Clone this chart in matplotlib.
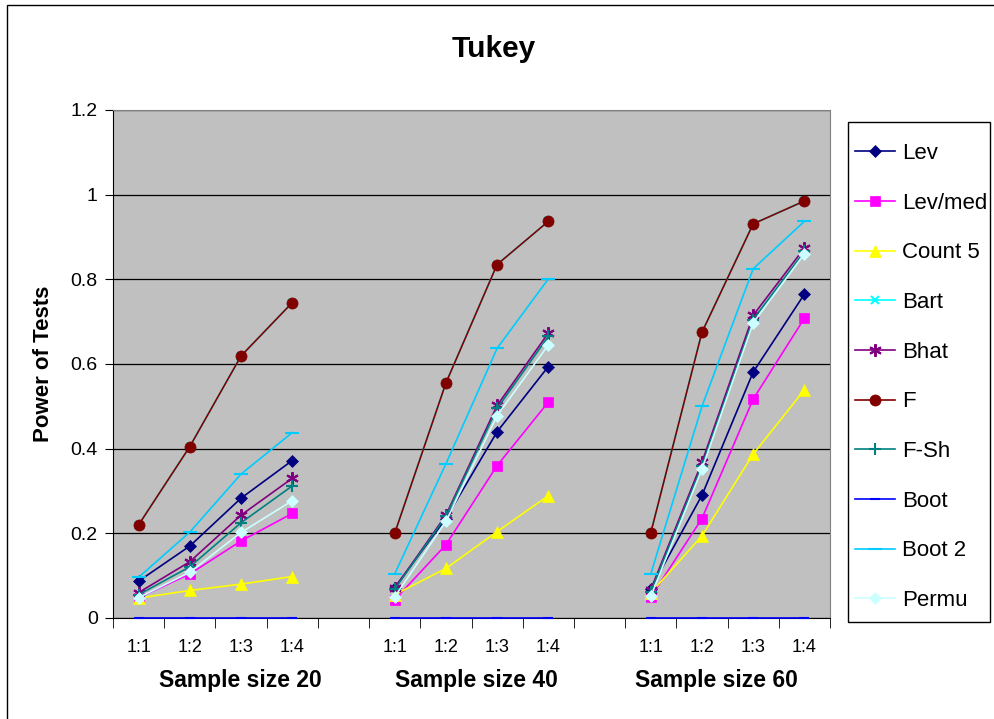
import numpy as np
import matplotlib
matplotlib.use('Agg')
import matplotlib.pyplot as plt
from matplotlib.patches import Rectangle

# categories: 3 groups of ratios, with an empty slot between groups
cats = ['1:1', '1:2', '1:3', '1:4', '', '1:1', '1:2', '1:3', '1:4', '',
        '1:1', '1:2', '1:3', '1:4']
groups = ['Sample size 20', 'Sample size 40', 'Sample size 60']
nan = np.nan

lev     = [0.087, 0.170, 0.283, 0.372, nan, 0.072, 0.235, 0.440, 0.594, nan, 0.069, 0.290, 0.581, 0.765]
lev_med = [0.048, 0.104, 0.182, 0.247, nan, 0.043, 0.173, 0.360, 0.510, nan, 0.049, 0.235, 0.517, 0.708]
count5  = [0.047, 0.065, 0.080, 0.098, nan, 0.055, 0.117, 0.204, 0.289, nan, 0.059, 0.194, 0.387, 0.539]
bart    = [0.220, 0.405, 0.619, 0.745, nan, 0.200, 0.555, 0.835, 0.937, nan, 0.201, 0.675, 0.931, 0.985]
bhat    = [0.060, 0.133, 0.243, 0.330, nan, 0.070, 0.243, 0.502, 0.673, nan, 0.067, 0.368, 0.715, 0.874]
f_test  = [0.220, 0.405, 0.619, 0.745, nan, 0.200, 0.555, 0.835, 0.937, nan, 0.201, 0.675, 0.931, 0.985]
f_sh    = [0.055, 0.121, 0.225, 0.312, nan, 0.068, 0.240, 0.495, 0.665, nan, 0.062, 0.360, 0.705, 0.866]
boot    = [0.0, 0.0, 0.0, 0.0, nan, 0.0, 0.0, 0.0, 0.0, nan, 0.0, 0.0, 0.0, 0.0]
boot2   = [0.096, 0.203, 0.340, 0.438, nan, 0.104, 0.364, 0.637, 0.801, nan, 0.104, 0.500, 0.825, 0.937]
permu   = [0.048, 0.108, 0.202, 0.277, nan, 0.050, 0.228, 0.478, 0.645, nan, 0.051, 0.352, 0.697, 0.860]

series = [
    ('Lev', lev, '#000080', 'D', 6),
    ('Lev/med', lev_med, '#FF00FF', 's', 7),
    ('Count 5', count5, '#FFFF00', '^', 8),
    ('Bart', bart, '#00FFFF', 'x', 6),
    ('Bhat', bhat, '#800080', (6, 2, 0), 9),
    ('F', f_test, '#800000', 'o', 8),
    ('F-Sh', f_sh, '#008080', '+', 9),
    ('Boot', boot, '#0000FF', '_', 7),
    ('Boot 2', boot2, '#00CCFF', '_', 10),
    ('Permu', permu, '#CCFFFF', 'D', 6),
]

plt.rcParams['font.family'] = ['Liberation Sans', 'DejaVu Sans']

fig = plt.figure(figsize=(9.94, 7.19), dpi=100)
# chart area border (right/bottom edges fall outside the picture)
fig.patches.append(Rectangle((7/994, -0.1), 1.2, (719-5)/719 + 0.1,
                             transform=fig.transFigure, fill=False,
                             edgecolor='black', linewidth=1.0))
ax = fig.add_axes([113/994, 101/719, 717/994, 508/719])
ax.set_facecolor('#C0C0C0')

x = np.arange(len(cats))
for name, vals, col, mk, ms in series:
    mew = 1.5 if mk in ('x', '+', '_') or isinstance(mk, tuple) else 0.5
    ax.plot(x, vals, color=col, marker=mk, markersize=ms, linewidth=1.2,
            markeredgewidth=mew, markeredgecolor=col, label=name,
            zorder=3, clip_on=False)

ax.set_xlim(-0.5, len(cats) - 0.5)
ax.set_ylim(0, 1.2)
ax.set_yticks(np.arange(0, 1.21, 0.2))
ax.set_yticklabels(['0', '0.2', '0.4', '0.6', '0.8', '1', '1.2'])
ax.yaxis.grid(True, color='black', linewidth=0.9)
ax.set_axisbelow(True)

ax.set_xticks(x)
ax.set_xticklabels(cats)
ax.set_xticks(np.arange(-0.5, len(cats)), minor=True)
ax.tick_params(axis='x', which='major', length=0, pad=15, labelsize=13)
ax.tick_params(axis='x', which='minor', length=7, direction='out')
ax.tick_params(axis='y', length=6, direction='out', labelsize=14, pad=5)

for s in ['left', 'bottom']:
    ax.spines[s].set_color('black')
ax.spines['top'].set_color('#808080')
ax.spines['right'].set_color('#808080')

ax.set_ylabel('Power of Tests', fontsize=16, fontweight='bold', labelpad=12)
fig.text(494/994, 1 - 49/719, 'Tukey', fontsize=21.5, fontweight='bold',
         ha='center', va='center')

for gx, g in zip([240, 476, 716], groups):
    fig.text(gx/994, 1 - 680/719, g, fontsize=16.5, fontweight='bold',
             ha='center', va='center')

# legend box
fig.patches.append(Rectangle((848/994, 1 - 622/719), 142/994, 500/719,
                             transform=fig.transFigure, facecolor='white',
                             edgecolor='black', linewidth=1.0, zorder=1))
leg = fig.legend(loc='upper left', bbox_to_anchor=(855/994, 1 - 143/719),
                 fontsize=16, frameon=False,
                 labelspacing=1.29, handlelength=1.8, handletextpad=0.3,
                 borderpad=0, borderaxespad=0)
leg.set_zorder(2)

fig.savefig('out.png', dpi=100)
